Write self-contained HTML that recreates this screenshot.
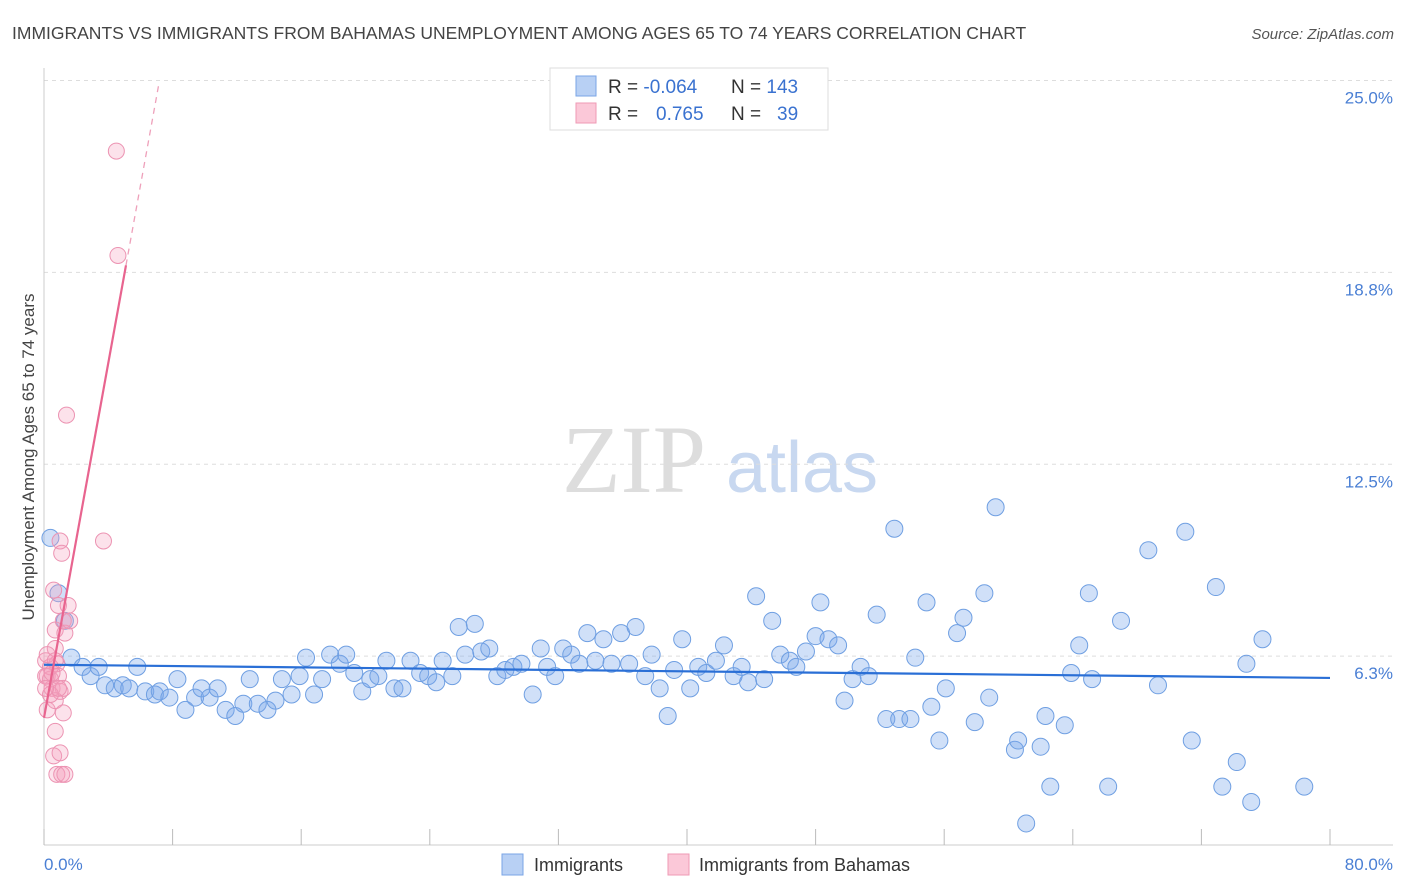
<!DOCTYPE html>
<html><head><meta charset="utf-8"><style>
body{margin:0;width:1406px;height:892px;background:#fff;font-family:"Liberation Sans",sans-serif;overflow:hidden}
svg{position:absolute;left:0;top:0}
</style></head><body>
<svg id="chart" width="1406" height="892">
<text x="12" y="39" font-size="17.5" fill="#444">IMMIGRANTS VS IMMIGRANTS FROM BAHAMAS UNEMPLOYMENT AMONG AGES 65 TO 74 YEARS CORRELATION CHART</text>
<text x="1394" y="39" font-size="15" fill="#555" font-style="italic" text-anchor="end">Source: ZipAtlas.com</text>
<text x="634" y="492" font-size="96" fill="#ddd" font-family="Liberation Serif,serif" text-anchor="middle">ZIP</text>
<text x="802" y="492" font-size="72" fill="#c8d8f0" text-anchor="middle">atlas</text>
<g id="grid"></g><g id="axes"></g><g id="pts"></g><g id="trend"></g>
<text transform="translate(34,457) rotate(-90)" font-size="17" fill="#444" text-anchor="middle">Unemployment Among Ages 65 to 74 years</text>
<text x="44" y="870" font-size="17" fill="#4a7fd4">0.0%</text>
<text x="1393" y="870" font-size="17" fill="#4a7fd4" text-anchor="end">80.0%</text>
<g>
<rect x="550" y="68" width="278" height="62" fill="#fff" stroke="#ddd"/>
<rect x="576" y="76" width="20" height="20" fill="#b8d0f4" stroke="#7aa5e6"/>
<rect x="576" y="103" width="20" height="20" fill="#fbc8d8" stroke="#ef9ab5"/>
<text x="608" y="93" font-size="19" fill="#333">R = <tspan fill="#3a72d0">-0.064</tspan><tspan x="731">N = </tspan><tspan fill="#3a72d0">143</tspan></text>
<text x="608" y="120" font-size="19" fill="#333">R = <tspan x="656" fill="#3a72d0">0.765</tspan><tspan x="731">N = </tspan><tspan x="777" fill="#3a72d0">39</tspan></text>
</g>
<g>
<rect x="502" y="854" width="21" height="21" fill="#b8d0f4" stroke="#7aa5e6"/>
<text x="534" y="871" font-size="18" fill="#333">Immigrants</text>
<rect x="668" y="854" width="21" height="21" fill="#fbc8d8" stroke="#ef9ab5"/>
<text x="699" y="871" font-size="18" fill="#333">Immigrants from Bahamas</text>
</g>
</svg>
<script>
const blueX=[0.4,0.9,1.3,1.7,2.4,2.9,3.4,3.8,4.4,4.9,5.3,5.8,6.3,6.9,7.2,7.8,8.3,8.8,9.4,9.8,10.3,10.8,11.3,11.9,12.4,12.8,13.3,13.9,14.4,14.8,15.4,15.9,16.3,16.8,17.3,17.8,18.4,18.8,19.3,19.8,20.3,20.8,21.3,21.8,22.3,22.8,23.4,23.9,24.4,24.8,25.4,25.8,26.2,26.8,27.2,27.7,28.2,28.7,29.2,29.7,30.4,30.9,31.3,31.8,32.3,32.8,33.3,33.8,34.3,34.8,35.3,35.9,36.4,36.8,37.4,37.8,38.3,38.8,39.2,39.7,40.2,40.7,41.2,41.8,42.3,42.9,43.4,43.8,44.3,44.8,45.3,45.8,46.4,46.8,47.4,48.0,48.3,48.8,49.4,49.8,50.3,50.8,51.3,51.8,52.4,52.9,53.2,53.9,54.2,54.9,55.2,55.7,56.1,56.8,57.2,57.9,58.5,58.8,59.2,60.4,60.6,61.1,62.0,62.3,62.6,63.5,63.9,64.4,65.0,65.2,66.2,67.0,68.7,69.3,71.0,71.4,72.9,73.3,74.2,74.8,75.1,75.8,78.4];
const blueY=[10.1,8.3,7.4,6.2,5.9,5.6,5.9,5.3,5.2,5.3,5.2,5.9,5.1,5.0,5.1,4.9,5.5,4.5,4.9,5.2,4.9,5.2,4.5,4.3,4.7,5.5,4.7,4.5,4.8,5.5,5.0,5.6,6.2,5.0,5.5,6.3,6.0,6.3,5.7,5.1,5.5,5.6,6.1,5.2,5.2,6.1,5.7,5.6,5.4,6.1,5.6,7.2,6.3,7.3,6.4,6.5,5.6,5.8,5.9,6.0,5.0,6.5,5.9,5.6,6.5,6.3,6.0,7.0,6.1,6.8,6.0,7.0,6.0,7.2,5.6,6.3,5.2,4.3,5.8,6.8,5.2,5.9,5.7,6.1,6.6,5.6,5.9,5.4,8.2,5.5,7.4,6.3,6.1,5.9,6.4,6.9,8.0,6.8,6.6,4.8,5.5,5.9,5.6,7.6,4.2,10.4,4.2,4.2,6.2,8.0,4.6,3.5,5.2,7.0,7.5,4.1,8.3,4.9,11.1,3.2,3.5,0.8,3.3,4.3,2.0,4.0,5.7,6.6,8.3,5.5,2.0,7.4,9.7,5.3,10.3,3.5,8.5,2.0,2.8,6.0,1.5,6.8,2.0];
const pinkX=[0.1,0.2,0.4,0.5,0.6,0.7,0.7,0.8,0.9,0.9,1.0,1.0,1.1,1.2,1.2,1.2,1.3,1.4,1.5,1.6,0.6,0.7,0.8,1.1,1.0,1.3,0.2,0.4,0.1,0.2,3.7,4.5,4.6,0.7,0.4,0.5,0.7,0.9,0.1];
const pinkY=[6.1,5.6,5.5,5.2,8.4,7.1,6.5,6.0,7.9,5.6,5.1,10.0,9.6,5.2,4.4,7.4,7.0,14.1,7.9,7.4,3.0,3.8,2.4,2.4,3.1,2.4,4.5,5.9,5.6,6.3,10.0,22.7,19.3,4.8,5.0,5.7,6.1,5.2,5.2];
const blueTrend=[5.97,5.54];
const pinkTrend={intercept:4.24,slope:2.89,solidEnd:5.1,dashEnd:7.15};
const yTicks=[6.25,12.5,18.75,25];
const yTickLabels=["6.3%","12.5%","18.8%","25.0%"];
const xTicks=[0,8,16,24,32,40,48,56,64,72,80];
const X=v=>44+v*16.075, Y=v=>848-v*30.7;
const NS="http://www.w3.org/2000/svg";
function mk(p,t,a){const e=document.createElementNS(NS,t);for(const k in a)e.setAttribute(k,a[k]);document.getElementById(p).appendChild(e);return e;}
yTicks.forEach((v,i)=>{
 const l=mk('grid','line',{x1:44,x2:1393,y1:Y(v),y2:Y(v),stroke:'#ddd','stroke-dasharray':'4,4'});
 
 
 const t=mk('grid','text',{x:1393,y:Y(v)+23,'font-size':17,fill:'#4a7fd4','text-anchor':'end'});t.textContent=yTickLabels[i];
 
 
});
const ax=mk('axes','line',{x1:44,x2:44,y1:68,y2:845,stroke:'#ccc'});


const bx=mk('axes','line',{x1:44,x2:1393,y1:845,y2:845,stroke:'#ccc'});


xTicks.forEach(v=>{const t=mk('axes','line',{x1:X(v),x2:X(v),y1:829,y2:845,stroke:'#bbb'});
 
 });
blueX.forEach((v,i)=>{const c=mk('pts','circle',{cx:X(v),cy:Y(blueY[i]),r:8.5,fill:'rgba(120,165,235,0.35)',stroke:'#6f9fe2','stroke-width':1});
 
 });
pinkX.forEach((v,i)=>{const c=mk('pts','circle',{cx:X(v),cy:Y(pinkY[i]),r:8,fill:'rgba(245,160,190,0.3)',stroke:'#ec93b2','stroke-width':1});
 
 });
const bl=mk('trend','line',{x1:X(0),y1:Y(blueTrend[0]),x2:X(80),y2:Y(blueTrend[1]),stroke:'#2a6fd6','stroke-width':2.2});


const pf=v=>pinkTrend.intercept+pinkTrend.slope*v;
const ps=mk('trend','line',{x1:X(0),y1:Y(pf(0)),x2:X(pinkTrend.solidEnd),y2:Y(pf(pinkTrend.solidEnd)),stroke:'#e8648f','stroke-width':2.2});


const pd=mk('trend','line',{x1:X(pinkTrend.solidEnd),y1:Y(pf(pinkTrend.solidEnd)),x2:X(pinkTrend.dashEnd),y2:Y(pf(pinkTrend.dashEnd)),stroke:'#eea0ba','stroke-width':1.3,'stroke-dasharray':'6,5'});


</script>
</body></html>
